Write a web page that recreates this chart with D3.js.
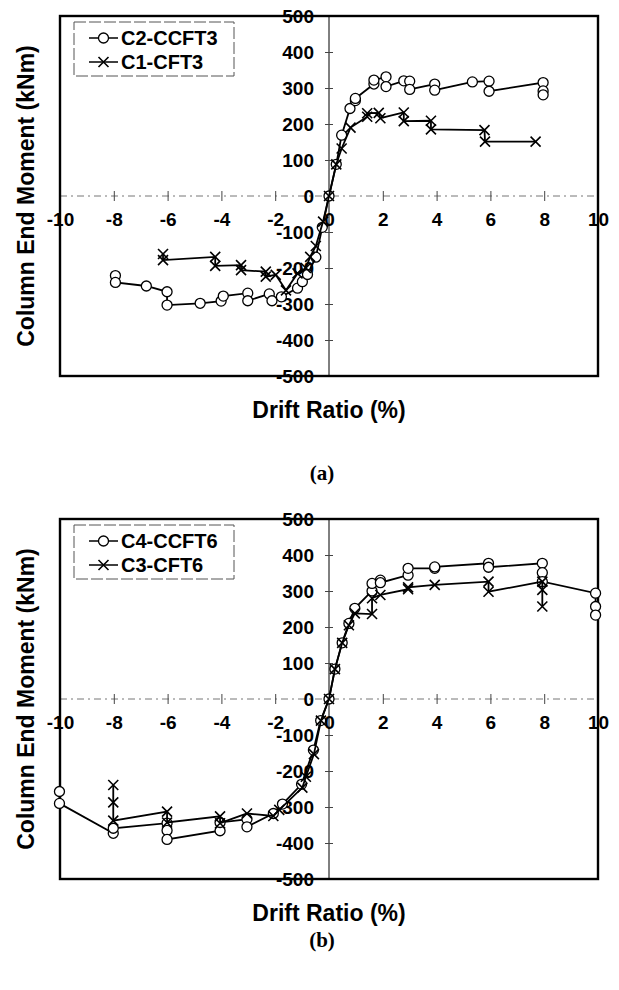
<!DOCTYPE html>
<html>
<head>
<meta charset="utf-8">
<script src="https://cdn.jsdelivr.net/npm/d3@7"></script>
<style>
  body { margin: 0; background: #fff; }
  text { font-family: "Liberation Sans", Arial, sans-serif; font-weight: bold; fill: #000; }
</style>
</head>
<body>
<svg id="chart" width="619" height="990"></svg>
<script>
// tick values
const xTickValues = [-10, -8, -6, -4, -2, 0, 2, 4, 6, 8, 10];
const yTickValues = [-500, -400, -300, -200, -100, 0, 100, 200, 300, 400, 500];

// (a) drift ratio (%), column end moment (kNm)
const c2CCFT3 = [
  [-7.94, -221], [-7.94, -240], [-6.79, -250], [-6.02, -266], [-6.02, -303], [-4.79, -298],
  [-4.01, -292], [-3.93, -278], [-3.02, -270], [-3.02, -291], [-2.22, -272], [-2.12, -291],
  [-1.77, -280], [-1.17, -256], [-0.99, -238], [-0.80, -218], [-0.49, -170], [-0.25, -87],
  [0, 0], [0.27, 88], [0.47, 169], [0.78, 243], [0.98, 265], [0.98, 271], [1.67, 311],
  [1.67, 322], [2.12, 331], [2.12, 304], [2.78, 320], [3.0, 319], [3.0, 296], [3.93, 311],
  [3.93, 294], [5.33, 317], [5.95, 319], [5.95, 291], [7.96, 315], [7.96, 292], [7.96, 281]
];
const c1CFT3 = [
  [-6.17, -161], [-6.17, -178], [-4.23, -169], [-4.23, -194], [-3.27, -192], [-3.27, -206],
  [-2.35, -210], [-2.35, -224], [-1.98, -219], [-1.6, -262], [-1.17, -215], [-0.86, -200],
  [-0.70, -169], [-0.49, -139], [-0.22, -71], [0, 0], [0.27, 88], [0.47, 132], [0.80, 190],
  [1.42, 220], [1.42, 230], [1.85, 231], [1.91, 216], [2.78, 232], [2.78, 208], [3.79, 209],
  [3.79, 185], [5.78, 183], [5.8, 151], [7.68, 151]
];

// (b)
const c4CCFT6 = [
  [-10.02, -257], [-10.02, -290], [-8.02, -373], [-8.02, -359], [-6.02, -345], [-6.02, -365],
  [-6.02, -390], [-4.05, -366], [-4.05, -343], [-3.05, -334], [-3.05, -355], [-2.07, -318],
  [-1.73, -292], [-1.02, -237], [-0.58, -142], [-0.31, -60], [0, 0], [0.22, 83], [0.49, 156],
  [0.74, 210], [0.96, 252], [1.6, 300], [1.6, 321], [1.91, 330], [1.91, 323], [2.94, 344],
  [2.94, 363], [3.93, 363], [3.93, 367], [5.93, 377], [5.93, 366], [7.93, 377], [7.93, 351],
  [7.93, 326], [9.91, 294], [9.91, 257], [9.91, 233]
];
const c3CFT6 = [
  [-8.02, -239], [-8.02, -287], [-8.02, -338], [-6.02, -313], [-6.02, -343], [-4.05, -326],
  [-4.05, -345], [-3.05, -318], [-2.07, -325], [-1.85, -308], [-0.99, -246], [-0.86, -216],
  [-0.56, -153], [-0.3, -60], [0, 0], [0.22, 83], [0.49, 156], [0.74, 205], [0.96, 238],
  [1.6, 236], [1.6, 280], [1.91, 289], [2.94, 305], [2.94, 310], [3.93, 317], [5.93, 326],
  [5.93, 298], [7.93, 326], [7.93, 303], [7.93, 257]
];

const panels = [
  { top: 16, caption: '(a)', captionY: 480,
    series: [{ name: 'C2-CCFT3', data: c2CCFT3, marker: 'circle' },
             { name: 'C1-CFT3', data: c1CFT3, marker: 'cross' }] },
  { top: 519, caption: '(b)', captionY: 947,
    series: [{ name: 'C4-CCFT6', data: c4CCFT6, marker: 'circle' },
             { name: 'C3-CFT6', data: c3CFT6, marker: 'cross' }] }
];

const svg = d3.select('#chart');
const plotLeft = 60, plotRight = 598, plotHeight = 360;
const crossPath = 'M-5,-5L5,5M-5,5L5,-5';
const plainNum = d => String(d);   // hyphen minus like the original

function drawMarker(sel, type) {
  if (type === 'circle') {
    sel.append('circle').attr('r', 5).attr('fill', '#fff').attr('stroke', '#000').attr('stroke-width', 1.3);
  } else {
    sel.append('path').attr('d', crossPath).attr('fill', 'none').attr('stroke', '#000').attr('stroke-width', 1.6);
  }
}

panels.forEach(p => {
  const bottom = p.top + plotHeight;
  const x = d3.scaleLinear().domain([-10, 10]).range([plotLeft, plotRight]);
  const y = d3.scaleLinear().domain([-500, 500]).range([bottom, p.top]);
  const g = svg.append('g');

  // dashed zero line
  g.append('line')
    .attr('x1', plotLeft).attr('x2', plotRight)
    .attr('y1', y(0)).attr('y2', y(0))
    .attr('stroke', '#777').attr('stroke-width', 1)
    .attr('stroke-dasharray', '7,4,2,4');

  // vertical axis through 0
  g.append('line')
    .attr('x1', x(0)).attr('x2', x(0))
    .attr('y1', p.top).attr('y2', bottom)
    .attr('stroke', '#000').attr('stroke-width', 1);

  const xAxis = g.append('g')
    .attr('transform', `translate(0, ${y(0)})`)
    .call(d3.axisBottom(x).tickValues(xTickValues).tickSize(5).tickFormat(plainNum));
  xAxis.select('.domain').remove();
  xAxis.selectAll('.tick line').attr('y1', -5).attr('y2', 5).attr('stroke', '#444');
  xAxis.selectAll('.tick text').attr('y', 23).attr('dy', '0.35em')
    .style('font-size', '19px').style('font-family', '"Liberation Sans", Arial, sans-serif').style('font-weight', 'bold');

  const yAxis = g.append('g')
    .attr('transform', `translate(${x(0)}, 0)`)
    .call(d3.axisLeft(y).tickValues(yTickValues).tickSize(4).tickFormat(plainNum));
  yAxis.select('.domain').remove();
  yAxis.selectAll('.tick line').attr('x1', -4).attr('x2', 4).attr('stroke', '#444');
  yAxis.selectAll('.tick text').attr('x', -15)
    .style('font-size', '19px').style('font-family', '"Liberation Sans", Arial, sans-serif').style('font-weight', 'bold');

  // frame
  g.append('rect')
    .attr('x', plotLeft).attr('y', p.top)
    .attr('width', plotRight - plotLeft).attr('height', plotHeight)
    .attr('fill', 'none').attr('stroke', '#000').attr('stroke-width', 2.4);

  const line = d3.line().x(d => x(d[0])).y(d => y(d[1]));

  p.series.forEach(s => {
    g.append('path').datum(s.data)
      .attr('d', line)
      .attr('fill', 'none').attr('stroke', '#000').attr('stroke-width', 1.8);
    const pts = g.selectAll(null).data(s.data).enter().append('g')
      .attr('transform', d => `translate(${x(d[0])}, ${y(d[1])})`);
    drawMarker(pts, s.marker);
  });

  // legend
  const lg = g.append('g').attr('transform', `translate(74, ${p.top + 6})`);
  lg.append('rect').attr('width', 160).attr('height', 54)
    .attr('fill', '#fff').attr('stroke', '#555').attr('stroke-width', 1)
    .attr('stroke-dasharray', '12,3');
  p.series.forEach((s, i) => {
    const row = lg.append('g').attr('transform', `translate(0, ${16 + i * 24})`);
    row.append('line').attr('x1', 15).attr('x2', 44)
      .attr('stroke', '#000').attr('stroke-width', 1.5);
    drawMarker(row.append('g').attr('transform', 'translate(29.5, 0)'), s.marker);
    row.append('text').attr('x', 47).attr('dy', '0.36em')
      .style('font-size', '20px').text(s.name);
  });

  // axis titles
  g.append('text')
    .attr('transform', `translate(26, ${(p.top + bottom) / 2}) rotate(-90)`)
    .attr('text-anchor', 'middle').attr('dy', '0.36em')
    .style('font-size', '23px').text('Column End Moment (kNm)');
  g.append('text')
    .attr('x', 329).attr('y', bottom + 42)
    .attr('text-anchor', 'middle')
    .style('font-size', '23px').text('Drift Ratio (%)');

  g.append('text')
    .attr('x', 322).attr('y', p.captionY)
    .attr('text-anchor', 'middle')
    .style('font-family', '"Liberation Serif", "Times New Roman", serif')
    .style('font-size', '21px').text(p.caption);
});
</script>
</body>
</html>
